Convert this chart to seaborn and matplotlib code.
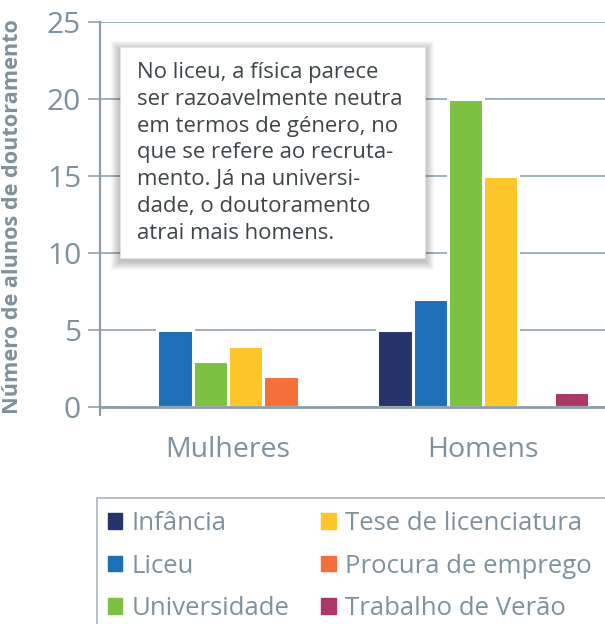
import pandas as pd
import matplotlib.pyplot as plt
import matplotlib.patches as mpatches
import seaborn as sns

# Dados
generos = ["Mulheres", "Homens"]
categorias = ["Infância", "Liceu", "Universidade", "Tese de licenciatura",
              "Procura de emprego", "Trabalho de Verão"]
valores_mulheres = [0, 5, 3, 4, 2, 0]
valores_homens = [5, 7, 20, 15, 0, 1]
cores = ["#27336B", "#1B70B8", "#7DC142", "#FFC629", "#F3703A", "#AA3768"]
texto_caixa = ("No liceu, a física parece\n"
               "ser razoavelmente neutra\n"
               "em termos de género, no\n"
               "que se refere ao recruta-\n"
               "mento. Já na universi-\n"
               "dade, o doutoramento\n"
               "atrai mais homens.")

df = pd.DataFrame({
    "genero": [generos[0]] * 6 + [generos[1]] * 6,
    "categoria": categorias * 2,
    "valor": valores_mulheres + valores_homens,
})

sns.set_style("white")
plt.rcParams["font.family"] = ["Open Sans", "DejaVu Sans"]

cinza_txt = "#7F919C"
cinza_linha = "#9AAAB4"

fig = plt.figure(figsize=(6.05, 6.24), dpi=100)
W, H = 605, 624
# 0 em y=407 px, 25 em y=22 px -> -0.5 em ~415 px
ax = fig.add_axes([100 / W, 1 - 415 / H, 1 - 100 / W, (415 - 22) / H])

sns.barplot(data=df, x="genero", y="valor", hue="categoria", order=generos,
            hue_order=categorias, palette=cores, saturation=1, width=0.83,
            ax=ax, edgecolor="white", linewidth=2.2, legend=False, zorder=3)
ax.set_ylim(-0.5, 25)
ax.set_xlim(-0.502, 1.478)

ax.set_yticks([0, 5, 10, 15, 20, 25])
ax.yaxis.grid(True, color=cinza_linha, linewidth=1.3, zorder=0)
ax.set_axisbelow(True)
for s in ["top", "right"]:
    ax.spines[s].set_visible(False)
ax.spines["bottom"].set_position(("data", 0))
ax.spines["bottom"].set_color("#8E9EA8")
ax.spines["bottom"].set_linewidth(2)
ax.spines["bottom"].set_zorder(4)
ax.spines["left"].set_color("#8E9EA8")
ax.spines["left"].set_linewidth(1.6)
ax.tick_params(axis="y", length=8.6, width=1.3, color=cinza_linha, pad=5,
               labelsize=21.5, labelcolor=cinza_txt, left=True)
ax.tick_params(axis="x", length=0, pad=21, labelsize=20.5, labelcolor=cinza_txt)
ax.set_xlabel("")
ax.set_ylabel("Número de alunos de doutoramento", fontsize=15.6,
              fontweight="bold", color=cinza_txt)
ax.yaxis.set_label_coords(-0.153, 0.506)

# caixa de texto com sombra
x0, y0, bw, bh = 120, 47, 305, 211
for k in range(9, 0, -1):
    sombra = mpatches.Rectangle(((x0 - k) / W, 1 - (y0 + bh + k + 3) / H),
                                (bw + 2 * k) / W, (bh + 2 * k) / H,
                                transform=fig.transFigure, facecolor="black",
                                edgecolor="none", alpha=0.028, zorder=5)
    fig.add_artist(sombra)
caixa = mpatches.Rectangle((x0 / W, 1 - (y0 + bh) / H), bw / W, bh / H,
                           transform=fig.transFigure, facecolor="white",
                           edgecolor="#E2E6E9", linewidth=0.5, zorder=6)
fig.add_artist(caixa)
fig.text(137 / W, 1 - 62 / H, texto_caixa, ha="left", va="top", fontsize=15.9,
         color="#3D4549", linespacing=1.36, zorder=7)

# legenda
moldura = mpatches.Rectangle((97 / W, -0.05), 0.9, 1 - 498 / H + 0.05,
                             transform=fig.transFigure, facecolor="none",
                             edgecolor="#A9B6BE", linewidth=1.2)
fig.add_artist(moldura)
handles = [mpatches.Patch(color=c, label=l) for c, l in zip(cores, categorias)]
leg = fig.legend(handles=handles, ncol=2, loc="upper left",
                 bbox_to_anchor=(98 / W, 1 - 501 / H), frameon=False,
                 fontsize=18.5, handlelength=0.55, handleheight=0.55,
                 handletextpad=0.35, columnspacing=1.25, labelspacing=0.68,
                 borderaxespad=0)
for t in leg.get_texts():
    t.set_color(cinza_txt)

fig.savefig("out.png", dpi=100)
